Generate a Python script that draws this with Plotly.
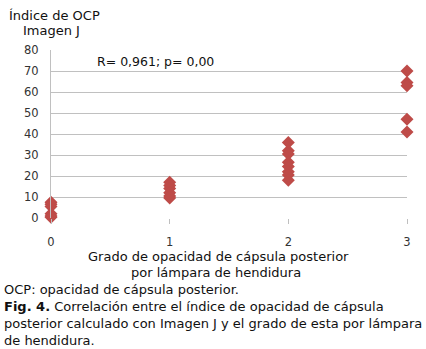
import plotly.graph_objects as go

# Data
grade_0 = [7.5, 6.5, 5.5, 2.0, 1.0, 0.3]
grade_1 = [17.0, 15.5, 14.0, 12.0, 10.5, 9.5]
grade_2 = [36.0, 32.0, 30.5, 26.5, 24.5, 22.0, 20.5, 18.0]
grade_3 = [70.0, 64.5, 63.0, 47.0, 41.0]
x_ticks = [0, 1, 2, 3]
y_ticks = [0, 10, 20, 30, 40, 50, 60, 70, 80]

xs, ys = [], []
for g, vals in zip(x_ticks, [grade_0, grade_1, grade_2, grade_3]):
    xs += [g] * len(vals)
    ys += vals

W, H = 426, 349
L, R, T, B = 51, 19, 50, 131
PW, PH = W - L - R, H - T - B

def px(x):
    return (x - L) / PW

def py(y):
    return (H - B - y) / PH

FONT = "DejaVu Sans"
TXT = "#111111"

fig = go.Figure()
fig.add_trace(go.Scatter(
    x=xs, y=ys, mode="markers",
    marker=dict(symbol="diamond", size=10, color="#be4b48", line=dict(width=0)),
    cliponaxis=False, showlegend=False, hoverinfo="skip",
))

fig.update_layout(
    width=W, height=H,
    margin=dict(l=L, r=R, t=T, b=B, pad=0),
    paper_bgcolor="white", plot_bgcolor="white",
    font=dict(family=FONT, size=12, color=TXT),
    xaxis=dict(
        range=[0, 3], tickvals=x_ticks, ticktext=[str(v) for v in x_ticks],
        showgrid=False, zeroline=False, showline=False,
        ticks="outside", ticklen=5, tickcolor="#bfbfbf", tickwidth=1,
        tickfont=dict(family=FONT, size=11.5, color="#333333"),
        ticklabelstandoff=8,
    ),
    yaxis=dict(
        range=[0, 80], tickvals=y_ticks,
        showgrid=True, gridcolor="#c0c0c0", gridwidth=1,
        zeroline=False, showline=True, linecolor="#c0c0c0", linewidth=1,
        ticks="", tickfont=dict(family=FONT, size=11.5, color="#333333"),
        ticklabelstandoff=9,
    ),
)

annots = [
    ("Índice de OCP", 7, 15, "left", 13),
    ("Imagen J", 21, 31, "left", 13),
    ("R= 0,961; p= 0,00", 95, 62, "left", 12.5),
    ("Grado de opacidad de cápsula posterior", 218, 256, "center", 13),
    ("por lámpara de hendidura", 216, 272, "center", 13),
    ("OCP: opacidad de cápsula posterior.", 2, 289, "left", 13),
    ("<b>Fig. 4.</b> Correlación entre el índice de opacidad de cápsula", 2, 306, "left", 13),
    ("posterior calculado con Imagen J y el grado de esta por lámpara", 2, 323, "left", 13),
    ("de hendidura.", 2, 340, "left", 13),
]
for text, x, y, anchor, size in annots:
    fig.add_annotation(
        text=text, x=px(x), y=py(y), xref="paper", yref="paper",
        xanchor=anchor, yanchor="middle", showarrow=False,
        font=dict(family=FONT, size=size, color=TXT),
    )

fig.write_html("out.html")
